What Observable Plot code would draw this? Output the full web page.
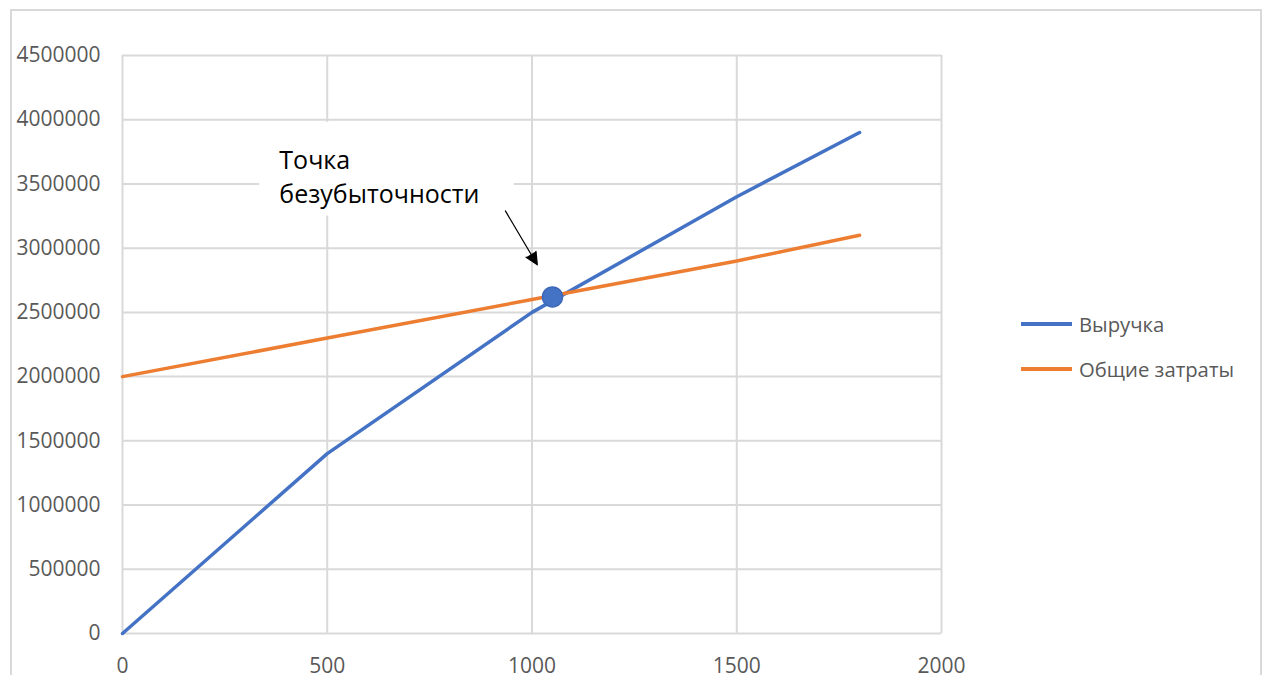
<!DOCTYPE html>
<html><head><meta charset="utf-8">
<script src="https://cdn.jsdelivr.net/npm/d3@7"></script>
<script src="https://cdn.jsdelivr.net/npm/@observablehq/plot@0.6"></script>
<style>
body{margin:0;background:#fff;font-family:"Open Sans",sans-serif;}
#wrap{position:relative;width:1268px;height:675px;overflow:hidden;background:#fff;}
#border{position:absolute;left:10px;top:9px;width:1252px;height:720px;border:2px solid #d9d9d9;box-sizing:border-box;pointer-events:none;}
#chart{position:absolute;left:0;top:0;}
.leg{position:absolute;left:1021px;display:flex;align-items:center;font-size:20.3px;color:#595959;white-space:nowrap;}
.leg .sw{width:51px;height:4px;margin-right:7px;}
</style></head>
<body>
<div id="wrap"><div id="chart"></div><div id="border"></div><div id="legend"></div></div>
<script>
const quantity = [0, 500, 1000, 1500, 1800];
const revenue = [0, 1400000, 2500000, 3400000, 3900000];
const totalCost = [2000000, 2300000, 2600000, 2900000, 3100000];
const seriesNames = ["Выручка", "Общие затраты"];
const seriesColors = ["#4472C4", "#ED7D31"];
const xTicks = [0, 500, 1000, 1500, 2000];
const yTicks = [0, 500000, 1000000, 1500000, 2000000, 2500000, 3000000, 3500000, 4000000, 4500000];
const breakEven = [{q: 1050, v: 2620000}];
const annotationText = [{q: 383, v: 3805000, label: "Точка\nбезубыточности"}];
const annotationBox = [{q1: 335, q2: 957, v1: 3250000, v2: 3980000}];
const annotationArrow = [{q1: 935, v1: 3290000, q2: 1013, v2: 2870000}];

const rows = [];
quantity.forEach((q, i) => rows.push({q, v: revenue[i], series: seriesNames[0]}));
quantity.forEach((q, i) => rows.push({q, v: totalCost[i], series: seriesNames[1]}));

const fmt = d3.format("d");
const chart = Plot.plot({
  width: 1268, height: 675,
  marginLeft: 122, marginRight: 327, marginTop: 55, marginBottom: 42,
  x: {domain: [0, 2000]},
  y: {domain: [0, 4500000]},
  color: {domain: seriesNames, range: seriesColors},
  style: {fontFamily: "'Open Sans', sans-serif", fontSize: "21px", color: "#595959", background: "transparent"},
  marks: [
    Plot.ruleX(xTicks, {stroke: "#d9d9d9", strokeWidth: 2}),
    Plot.ruleY(yTicks, {stroke: "#d9d9d9", strokeWidth: 2}),
    Plot.rect(annotationBox, {x1: "q1", x2: "q2", y1: "v1", y2: "v2", fill: "white"}),
    Plot.axisX(xTicks, {tickSize: 0, tickPadding: 25, tickFormat: fmt, label: null, fill: "#595959", fontSize: 21}),
    Plot.axisY(yTicks, {tickSize: 0, tickPadding: 22, tickFormat: fmt, label: null, fill: "#595959", fontSize: 21}),
    Plot.line(rows, {x: "q", y: "v", z: "series", stroke: "series", strokeWidth: 3.5, strokeLinejoin: "round"}),
    Plot.text(annotationText, {x: "q", y: "v", text: "label", textAnchor: "start", lineAnchor: "top", fontSize: 25, fill: "black", lineHeight: 1.36}),
    Plot.arrow(annotationArrow, {x1: "q1", y1: "v1", x2: "q2", y2: "v2", stroke: "black", fill: "black", strokeWidth: 1.2, headLength: 17, headAngle: 50}),
    Plot.dot(breakEven, {x: "q", y: "v", r: 10, fill: "#4472C4", stroke: "#3d68b8", strokeWidth: 1.5})
  ]
});
document.getElementById("chart").appendChild(chart);

const legendTops = [323.5, 369];
const legend = document.getElementById("legend");
seriesNames.forEach((name, i) => {
  const item = document.createElement("div");
  item.className = "leg";
  item.style.top = (legendTops[i] - 15) + "px";
  item.style.height = "30px";
  const sw = document.createElement("span");
  sw.className = "sw";
  sw.style.background = seriesColors[i];
  const t = document.createElement("span");
  t.textContent = name;
  item.appendChild(sw); item.appendChild(t);
  legend.appendChild(item);
});
</script>
</body></html>
